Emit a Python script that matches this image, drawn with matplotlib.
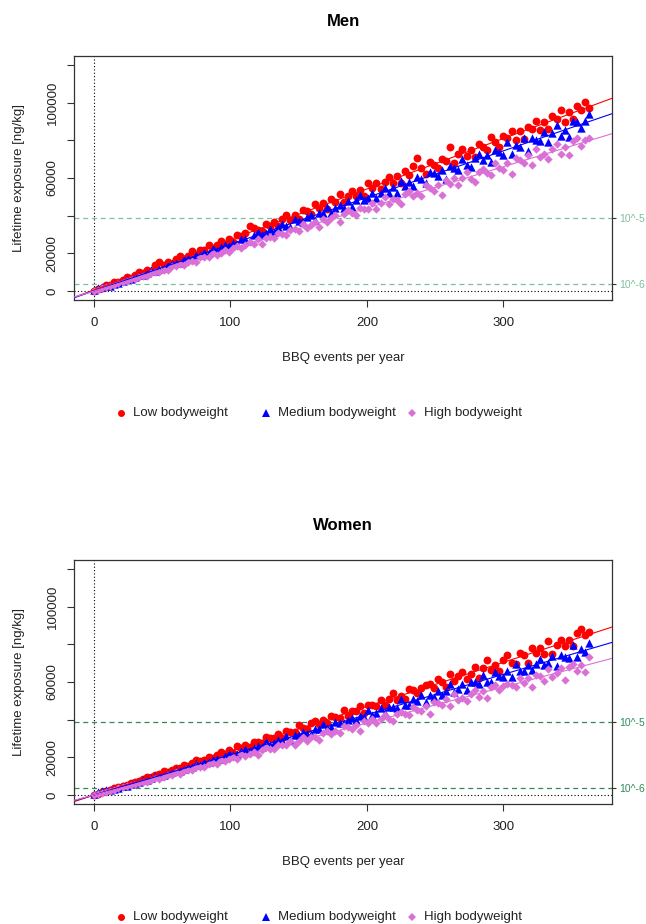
import numpy as np
import matplotlib.pyplot as plt

plt.rcParams["font.family"] = ["Liberation Sans", "DejaVu Sans"]

# BBQ events per year (simulated persons, every third count)
bbq_events = np.arange(0, 364, 3)

# Lifetime exposure [ng/kg], men
men_low = [200, 1300, 1400, 3000, 3300, 4900, 4500, 6000, 7600, 6800,
           8700, 10300, 9400, 11200, 10600, 13900, 15600, 13900, 15500, 14500,
           16900, 18400, 17100, 18800, 21000, 19100, 22000, 21800, 24400, 22100,
           24500, 26400, 25100, 27400, 25800, 29900, 29000, 30900, 34300, 33600,
           32400, 31900, 35400, 34500, 36600, 34700, 38200, 40200, 37700, 40400,
           38200, 43100, 42300, 40900, 46100, 44300, 46500, 43500, 48900, 47200,
           51300, 47200, 50700, 53200, 50200, 53500, 50500, 57100, 54900, 57300,
           54100, 57700, 60600, 57600, 61000, 57400, 63500, 61800, 66300, 70600,
           65200, 62300, 68700, 67100, 65100, 70300, 68800, 76700, 67800, 73000,
           75500, 71500, 74900, 71400, 78000, 76500, 74700, 81600, 79300, 76400,
           82100, 81000, 85000, 80100, 84800, 80800, 87300, 85900, 90200, 85600,
           89900, 85900, 92800, 91100, 96100, 90000, 95200, 91200, 98100, 96300,
           100300, 97400]
men_med = [300, 1800, 2300, 2600, 2800, 3900, 4400, 5300, 6100, 6400,
           7400, 8500, 8400, 9800, 11000, 10800, 11900, 12000, 13700, 14800,
           14600, 15000, 16800, 17300, 16800, 19300, 19200, 20500, 20200, 22600,
           21200, 23100, 24500, 24100, 25500, 25000, 27800, 27500, 26300, 29600,
           31500, 29600, 30900, 32900, 31400, 33800, 35600, 34300, 33900, 38300,
           37200, 36800, 39400, 40600, 37800, 41300, 41200, 44500, 41400, 43900,
           45500, 44000, 47900, 44500, 48100, 51200, 48100, 49300, 52100, 49300,
           52100, 54900, 52000, 55400, 51800, 58600, 56000, 57800, 55700, 60500,
           59500, 57300, 63400, 62400, 61300, 64500, 59500, 66600, 65500, 64200,
           70300, 67000, 65700, 70600, 72700, 69300, 72100, 68600, 75100, 73600,
           72200, 78900, 72900, 77400, 76600, 81200, 74200, 81200, 80300, 79500,
           84300, 79300, 84100, 88200, 82300, 85500, 82000, 90500, 89500, 86800,
           90100, 94000]
men_high = [100, 600, 1400, 2000, 2700, 3100, 4100, 4700, 5100, 6200,
            6500, 7300, 8200, 8000, 9400, 10300, 10200, 11300, 11300, 13300,
            13100, 14100, 13900, 15600, 15800, 15200, 17800, 18000, 18100, 20100,
            19200, 20300, 21800, 20500, 22900, 24000, 22600, 24400, 25800, 25200,
            27700, 25200, 28000, 28900, 28200, 30900, 30100, 29500, 32600, 32700,
            31700, 35700, 33600, 35000, 36400, 34100, 38400, 36500, 38700, 40100,
            36400, 41100, 43000, 41200, 40600, 44200, 43600, 43300, 46700, 43300,
            46700, 49700, 46100, 49100, 48400, 46000, 51700, 52900, 50500, 52100,
            50200, 56100, 54700, 53100, 56500, 51100, 59000, 56800, 59800, 56400,
            60000, 63100, 59500, 57700, 63300, 64600, 62700, 61500, 67900, 65300,
            64000, 68000, 61900, 70700, 69300, 67900, 72100, 67100, 75600, 71200,
            72600, 70300, 75400, 78300, 73000, 76700, 72000, 79500, 81000, 77000,
            80000, 81500]

# Lifetime exposure [ng/kg], women
women_low = [200, 700, 1400, 2200, 2700, 3500, 4400, 4800, 5300, 6600,
             7000, 7500, 8600, 9400, 9300, 10600, 11100, 12500, 12200, 13400,
             14300, 14300, 16100, 15400, 17000, 18600, 17900, 18800, 20300, 19600,
             21100, 22700, 21800, 23700, 22500, 25800, 25100, 26300, 25700, 28200,
             28100, 27400, 30700, 30500, 30300, 32300, 30100, 34000, 33700, 33400,
             36900, 35500, 35100, 38000, 39500, 37900, 39800, 38100, 42000, 41500,
             40900, 45000, 41900, 44700, 44500, 47500, 43600, 48000, 47800, 47500,
             50700, 47900, 51100, 53900, 50500, 52700, 50800, 56300, 55900, 54400,
             56800, 58600, 58800, 56600, 61400, 59800, 57500, 64200, 60600, 63200,
             65100, 61400, 64000, 68000, 62100, 67400, 71500, 66200, 68900, 66100,
             71700, 74500, 70300, 69500, 75300, 74500, 70100, 78200, 75200, 78100,
             75000, 81900, 74800, 79400, 82500, 79200, 82400, 79000, 86200, 88400,
             84800, 86700]
women_med = [300, 1600, 2000, 2400, 2600, 3100, 3800, 4600, 5000, 6000,
             6300, 6700, 7800, 8100, 9000, 10200, 10000, 10500, 11700, 12100,
             13300, 12900, 13900, 15000, 15000, 17100, 16100, 17400, 17500, 19100,
             19000, 19000, 20900, 22100, 21300, 21900, 23200, 24400, 23300, 24900,
             26100, 25700, 28500, 26700, 27800, 29300, 28800, 31200, 29100, 31600,
             32000, 33600, 32600, 32500, 35200, 34800, 37600, 35700, 35900, 38500,
             38000, 38200, 39600, 41100, 39700, 42000, 41300, 45000, 42600, 43700,
             46100, 43600, 46900, 46700, 46300, 50800, 47600, 47700, 50800, 50000,
             53200, 49200, 52900, 52000, 55300, 53200, 55000, 58900, 54500, 56300,
             58700, 55800, 60000, 60000, 58900, 63700, 60100, 60100, 65100, 63300,
             62600, 65800, 62600, 69800, 65800, 65800, 69100, 66300, 69700, 72400,
             68900, 70200, 73700, 68600, 74300, 73500, 72600, 79600, 73100, 77600,
             75900, 80500]
women_high = [0, 600, 1100, 1800, 2300, 2600, 3600, 4100, 4500, 5400,
              5600, 6200, 7100, 7000, 8200, 8900, 8700, 9700, 10600, 10700,
              12000, 11200, 12700, 13400, 13300, 14900, 14800, 14700, 16500, 16800,
              16500, 18800, 18000, 18900, 19900, 18900, 21500, 20600, 22000, 23000,
              21100, 24000, 25300, 24400, 24200, 26600, 26400, 26400, 28600, 26700,
              28900, 31000, 28900, 31000, 30600, 29300, 33100, 34000, 32600, 33800,
              32700, 36700, 35900, 35000, 37400, 33900, 39300, 38000, 40100, 38000,
              40500, 42700, 40400, 39300, 43200, 44300, 43100, 42400, 46900, 45300,
              44500, 47300, 43200, 49500, 48600, 47700, 50800, 47400, 53400, 50500,
              51600, 50100, 53800, 56000, 52200, 55000, 51700, 57200, 58400, 55600,
              57900, 59000, 58500, 57200, 62000, 59600, 62000, 57600, 63700, 63100,
              60500, 66800, 62900, 64800, 67300, 61300, 67800, 69700, 65600, 68900,
              65300, 73500]

groups = ["Low bodyweight", "Medium bodyweight", "High bodyweight"]
group_colors = ["#FF0000", "#0000FF", "#DA70D6"]
group_markers = ["o", "^", "D"]
group_sizes = [32, 36, 18]
key_sizes = [5, 5.5, 3.8]

# exposure giving a lifetime cancer risk of 1e-5 / 1e-6
risk_levels = [38700, 3870]
risk_labels = ["10^-5", "10^-6"]

y_ticks = [0, 20000, 40000, 60000, 80000, 100000, 120000]
y_ticklabels = ["0", "20000", "", "60000", "", "100000", ""]
x_ticks = [0, 100, 200, 300]

W, H = 646, 924
# legend key positions (pixels across the figure)
legend_x = [121, 266, 412]


def draw_panel(fig, top, title, series, green):
    """One panel: scatter per bodyweight group, fitted lines, risk levels"""
    left, right, bottom = 74, 612, top + 244
    width = right - left
    ax = fig.add_axes([left / W, 1 - bottom / H, width / W, (bottom - top) / H])
    ax.set_xlim(-14.6, 379.6)
    ax.set_ylim(-4800, 124800)

    for y, c, m, s in zip(series, group_colors, group_markers, group_sizes):
        ax.scatter(bbq_events, y, s=s, c=c, marker=m, linewidths=0, zorder=2)

    # least squares line for each group
    for y, c in zip(series, group_colors):
        slope, icpt = np.polyfit(bbq_events, y, 1)
        ax.axline((0, icpt), slope=slope, color=c, lw=0.8, zorder=3)

    ax.axvline(0, color="black", ls=(0, (1, 2)), lw=0.8, zorder=1)
    ax.axhline(0, color="black", ls=(0, (1, 2)), lw=0.8, zorder=1)
    for level in risk_levels:
        ax.axhline(level, color=green, ls=(0, (4, 3)), lw=0.9, zorder=1)

    for side in ax.spines.values():
        side.set_color("#333333")
        side.set_linewidth(0.9)

    ax.set_xticks(x_ticks)
    ax.set_yticks(y_ticks)
    ax.set_yticklabels(y_ticklabels)
    ax.tick_params(direction="out", length=5, width=0.8, color="#333333",
                   labelsize=9.5, labelcolor="#222222")
    ax.tick_params(axis="x", pad=7)
    ax.tick_params(axis="y", pad=6)
    for lab in ax.get_yticklabels():
        lab.set_rotation(90)
        lab.set_va("center")

    ax.set_xlabel("BBQ events per year", fontsize=9.5, color="#222222", va="center")
    ax.xaxis.set_label_coords(0.5, -58 / 244)
    ax.set_ylabel("Lifetime exposure [ng/kg]", fontsize=9.5, color="#222222", va="center")
    ax.yaxis.set_label_coords(-55 / width, 0.5)

    ax.text(0.5, 1 + 34 / 244, title, transform=ax.transAxes, ha="center",
            va="center", fontsize=12, fontweight="bold")

    # risk labels on the right axis
    ax2 = ax.twinx()
    ax2.set_ylim(ax.get_ylim())
    ax2.set_yticks(risk_levels)
    ax2.set_yticklabels(risk_labels)
    ax2.tick_params(axis="y", length=3, width=0.8, color="#333333", pad=2,
                    labelsize=7.5, labelcolor=green)
    for side in ax2.spines.values():
        side.set_visible(False)

    # legend row under the x label
    ly = -113 / 244
    for px, c, m, ms, name in zip(legend_x, group_colors, group_markers, key_sizes, groups):
        lx = (px - left) / width
        ax.plot([lx], [ly], ls="none", marker=m, color=c, markersize=ms,
                markeredgewidth=0, transform=ax.transAxes, clip_on=False)
        ax.text(lx + 12 / width, ly, name, transform=ax.transAxes, ha="left",
                va="center", fontsize=9.5, color="#222222")
    return ax


fig = plt.figure(figsize=(W / 100, H / 100), dpi=100)
draw_panel(fig, 56, "Men", [men_low, men_med, men_high], "#7fbf9a")
draw_panel(fig, 560, "Women", [women_low, women_med, women_high], "#2e8b57")
fig.savefig("out.png", dpi=100)
